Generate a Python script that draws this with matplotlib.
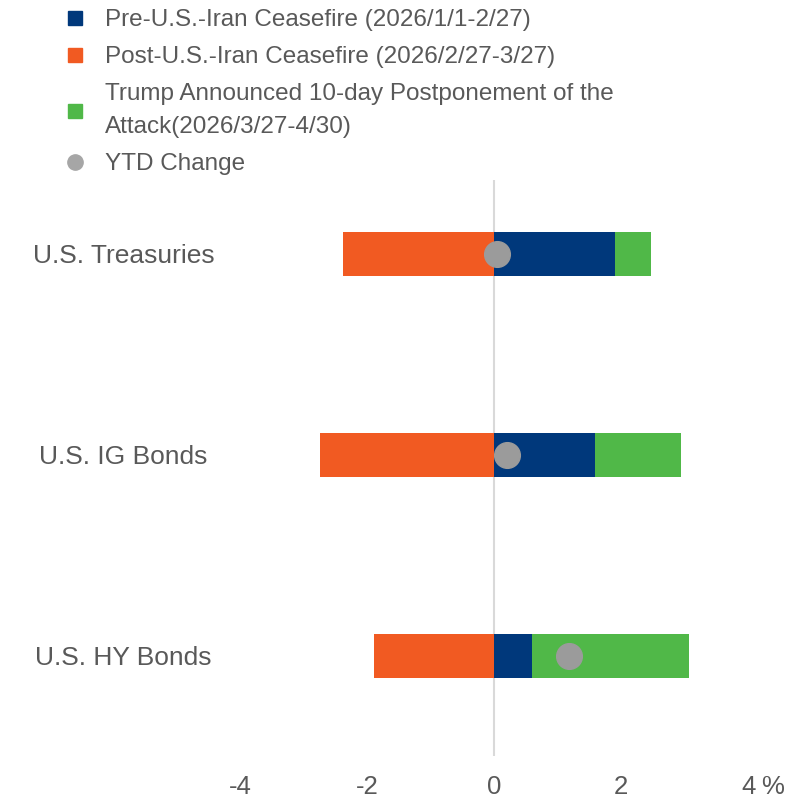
import matplotlib
matplotlib.use("Agg")
import matplotlib.pyplot as plt
from matplotlib.lines import Line2D
import numpy as np

categories = ["U.S. Treasuries", "U.S. IG Bonds", "U.S. HY Bonds"]
pre_ceasefire = [1.90, 1.58, 0.59]
post_ceasefire = [-2.39, -2.75, -1.89]
postponement = [0.56, 1.36, 2.48]
ytd_change = [0.05, 0.20, 1.17]
xticks = [-4, -2, 0, 2, 4]
xtick_labels = ["-4", "-2", "0", "2", "4"]
legend_labels = [
    "Pre-U.S.-Iran Ceasefire (2026/1/1-2/27)",
    "Post-U.S.-Iran Ceasefire (2026/2/27-3/27)",
    "Trump Announced 10-day Postponement of the\nAttack(2026/3/27-4/30)",
    "YTD Change",
]

NAVY = "#00387B"
ORANGE = "#F15A22"
GREEN = "#50B848"
DOT = "#9B9B9B"
TEXT = "#595959"

plt.rcParams["font.family"] = ["Liberation Sans", "DejaVu Sans"]

W, H = 803, 800
fig = plt.figure(figsize=(W / 100, H / 100), dpi=100)
left_px, right_px, top_px, bot_px = 240.3, 748.3, 180, 756
ax = fig.add_axes([left_px / W, 1 - bot_px / H, (right_px - left_px) / W, (bot_px - top_px) / H])

y = np.arange(len(categories))
h = 0.22
ax.barh(y, pre_ceasefire, height=h, color=NAVY, zorder=2)
ax.barh(y, post_ceasefire, height=h, color=ORANGE, zorder=2)
ax.barh(y, postponement, left=pre_ceasefire, height=h, color=GREEN, zorder=2)
ax.axvline(0, color="#D9D9D9", lw=1.5, zorder=1)
ax.plot(ytd_change, y, "o", color=DOT, markersize=18.5, zorder=4, linestyle="none")

ax.set_xlim(-4, 4)
ax.set_ylim(2.4975, -0.368)
ax.set_xticks(xticks)
ax.set_xticklabels(xtick_labels)
ax.set_yticks(y)
ax.set_yticklabels(categories)
ax.tick_params(axis="x", length=0, pad=14, labelsize=18.5, labelcolor=TEXT)
ax.tick_params(axis="y", length=0, pad=84, labelsize=19, labelcolor=TEXT)
for lab in ax.get_yticklabels():
    lab.set_horizontalalignment("center")
for s in ax.spines.values():
    s.set_visible(False)
ax.annotate("%", xy=(1.0, 0.0), xycoords="axes fraction", xytext=(9.5, -14),
            textcoords="offset points", ha="left", va="top", fontsize=18.5, color=TEXT)

handles = [
    Line2D([], [], marker="s", color=NAVY, linestyle="none", markersize=10),
    Line2D([], [], marker="s", color=ORANGE, linestyle="none", markersize=10),
    Line2D([], [], marker="s", color=GREEN, linestyle="none", markersize=10),
    Line2D([], [], marker="o", color="#A6A6A6", linestyle="none", markersize=11),
]
leg = fig.legend(handles, legend_labels, loc="upper left",
                 bbox_to_anchor=(63 / W, 1 - 9 / H), frameon=False,
                 fontsize=17.5, labelcolor=TEXT, handlelength=1.0,
                 handletextpad=0.74, borderpad=0, borderaxespad=0,
                 labelspacing=0.62)
for t in leg.get_texts():
    t.set_linespacing(1.65)

fig.savefig("out.png", dpi=100)
